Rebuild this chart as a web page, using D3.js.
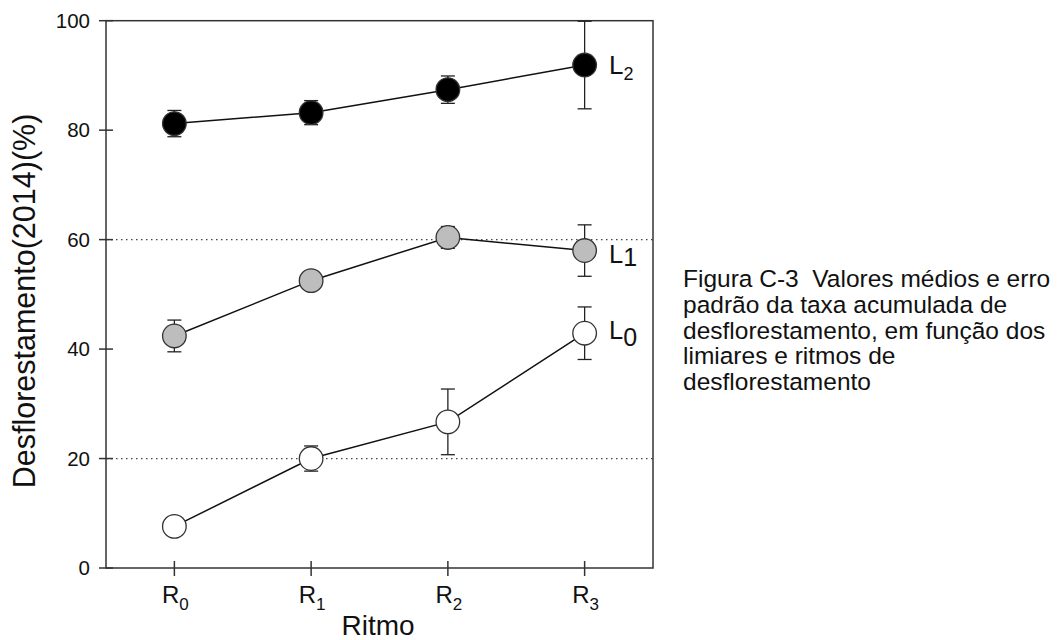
<!DOCTYPE html>
<html><head><meta charset="utf-8">
<script src="https://cdn.jsdelivr.net/npm/d3@7"></script>
<style>body{margin:0;background:#fff}svg{display:block}text{font-family:Arial,"Liberation Sans",sans-serif;fill:#111;white-space:pre}</style>
</head><body><svg id="c" width="1059" height="640"></svg>
<script>
const categories = ["0","1","2","3"];
const yTicks = [0,20,40,60,80,100];
const gridLines = [20,60];
const seriesNames = ["L2","L1","L0"];
const seriesSubs = ["2","1","0"];
const seriesFills = ["#000000","#bdbdbd","#ffffff"];
const meanL2 = [81.2,83.2,87.4,91.9];
const errL2 = [2.4,2.2,2.5,8.0];
const meanL1 = [42.4,52.5,60.4,58.0];
const errL1 = [2.9,1.2,2.0,4.7];
const meanL0 = [7.6,20.0,26.7,42.9];
const errL0 = [0.6,2.3,6.0,4.8];
const caption = ["Figura C-3  Valores médios e erro","padrão da taxa acumulada de","desflorestamento, em função dos","limiares e ritmos de","desflorestamento"];

const means=[meanL2,meanL1,meanL0], errs=[errL2,errL1,errL0];
const svg=d3.select("#c");
const L=106,R=653,T=20.7,B=568;
const x=d3.scaleLinear().domain([-0.5,3.5]).range([L,R]);
const y=d3.scaleLinear().domain([0,100]).range([B,T]);
const axc="#333";

// grid
svg.selectAll(".g").data(gridLines).join("line").attr("x1",L).attr("x2",R)
 .attr("y1",d=>y(d)).attr("y2",d=>y(d)).attr("stroke","#444").attr("stroke-width",1.2).attr("stroke-dasharray","1.5,3.5");

// frame
svg.append("rect").attr("x",L).attr("y",T).attr("width",R-L).attr("height",B-T).attr("fill","none").attr("stroke",axc).attr("stroke-width",1.5);

// y axis ticks
const ya=svg.append("g");
yTicks.forEach(t=>{
  ya.append("line").attr("x1",L-7).attr("x2",L+7).attr("y1",y(t)).attr("y2",y(t)).attr("stroke",axc).attr("stroke-width",1.5);
  ya.append("text").attr("x",90).attr("y",y(t)+7.3).attr("text-anchor","end").attr("font-size",20.5).text(t);
});
// x ticks
categories.forEach((c,i)=>{
  svg.append("line").attr("x1",x(i)).attr("x2",x(i)).attr("y1",B-7).attr("y2",B+8).attr("stroke",axc).attr("stroke-width",1.5);
  const t=svg.append("text").attr("x",x(i)+1).attr("y",603).attr("text-anchor","middle").attr("font-size",24);
  t.append("tspan").text("R");
  t.append("tspan").attr("font-size",17).attr("dy",7).text(c);
});
svg.append("text").attr("x",378).attr("y",635).attr("text-anchor","middle").attr("font-size",28).text("Ritmo");
svg.append("text").attr("transform","translate(35,301) rotate(-90)").attr("text-anchor","middle").attr("font-size",30.5).text("Desflorestamento(2014)(%)");

// series
const line=d3.line().x((d,i)=>x(i)).y(d=>y(d));
means.forEach((m,s)=>{
  svg.append("path").attr("d",line(m)).attr("fill","none").attr("stroke","#111").attr("stroke-width",1.5);
});
means.forEach((m,s)=>{
  const g=svg.append("g");
  m.forEach((v,i)=>{
    const e=errs[s][i];
    g.append("line").attr("x1",x(i)).attr("x2",x(i)).attr("y1",y(v-e)).attr("y2",y(v+e)).attr("stroke","#222").attr("stroke-width",1.3);
    [v-e,v+e].forEach(w=>g.append("line").attr("x1",x(i)-7).attr("x2",x(i)+7).attr("y1",y(w)).attr("y2",y(w)).attr("stroke","#222").attr("stroke-width",1.3));
  });
  m.forEach((v,i)=>{
    g.append("circle").attr("cx",x(i)).attr("cy",y(v)).attr("r",11.8).attr("fill",seriesFills[s]).attr("stroke","#333").attr("stroke-width",1.3);
  });
});
// series labels
const lab=svg.append("g");
const t2=lab.append("text").attr("x",609).attr("y",y(meanL2[3])+9).attr("font-size",26);
t2.append("tspan").text("L");t2.append("tspan").attr("font-size",18).attr("dy",6).text(seriesSubs[0]);
const off=[0,12,6], sdy=[0,3.5,7];
[1,2].forEach(s=>{
  const t=lab.append("text").attr("x",609).attr("y",y(means[s][3])+off[s]).attr("font-size",25.5);
  t.append("tspan").text("L");t.append("tspan").attr("font-size",25).attr("dy",sdy[s]).text(seriesSubs[s]);
});

// caption
caption.forEach((c,i)=>svg.append("text").attr("x",683).attr("y",287+i*25.8).attr("font-size",24.5).text(c));
</script></body></html>
